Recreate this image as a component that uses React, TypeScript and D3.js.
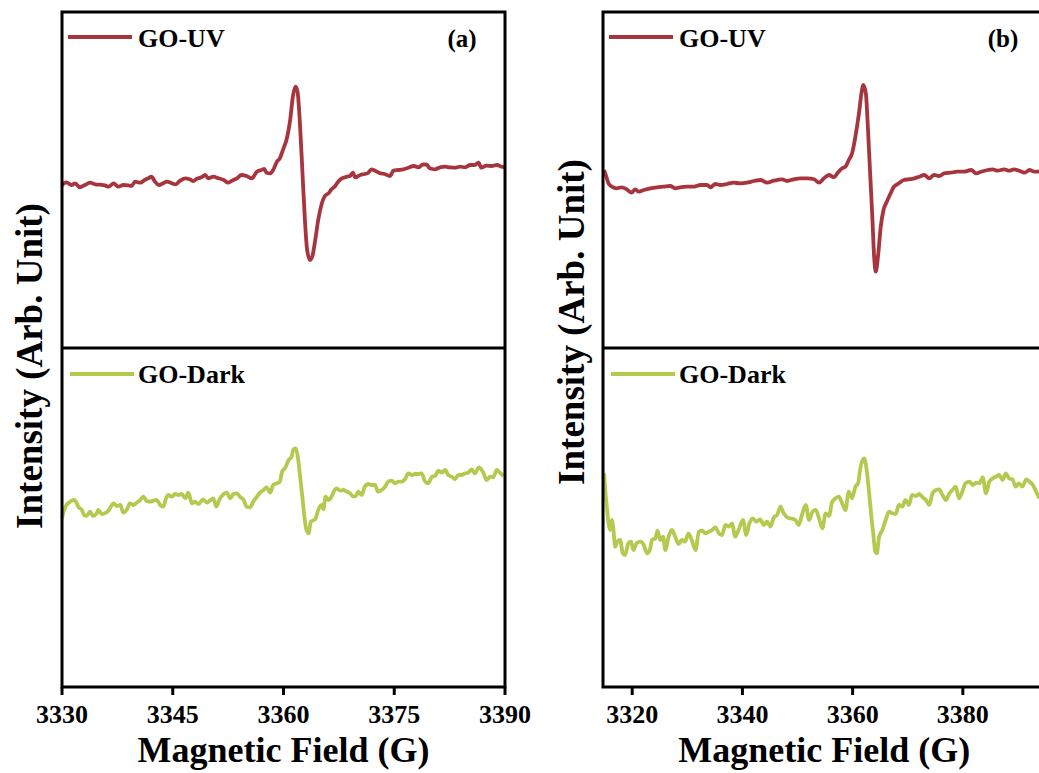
import React from "react";
import * as d3 from "d3";

// ---------- Data ----------
const ticksA = [3330, 3345, 3360, 3375, 3390];
const ticksB = [3320, 3340, 3360, 3380];
const domainA: [number, number] = [3330, 3390];
const domainB: [number, number] = [3314.7, 3395];

const seriesNames = ["GO-UV", "GO-Dark"];
const panelLabels = ["(a)", "(b)"];

const fieldUvA = [3330.0,3330.6,3331.3,3331.8,3332.4,3333.1,3333.8,3334.5,3335.2,3335.8,3336.3,3337.0,3337.6,3338.3,3339.0,3339.4,3339.9,3340.6,3341.2,3341.7,3342.1,3342.6,3343.1,3343.7,3344.2,3344.9,3345.4,3346.0,3346.7,3347.3,3347.8,3348.2,3348.9,3349.4,3349.8,3350.5,3351.2,3351.9,3352.5,3353.0,3353.7,3354.3,3355.0,3355.7,3356.4,3357.0,3357.4,3357.7,3358.2,3358.6,3359.1,3359.5,3360.0,3360.4,3360.9,3361.3,3361.65,3361.9,3362.2,3362.55,3362.9,3363.2,3363.6,3363.95,3364.3,3364.7,3365.2,3365.6,3366.1,3366.5,3367.0,3367.4,3367.9,3368.6,3369.0,3369.4,3369.7,3370.4,3371.0,3371.5,3371.9,3372.4,3373.1,3373.7,3374.4,3374.9,3375.6,3376.2,3376.9,3377.6,3378.3,3378.9,3379.4,3379.8,3380.5,3381.2,3381.9,3382.5,3383.2,3383.9,3384.6,3385.3,3385.9,3386.4,3386.8,3387.5,3388.2,3388.9,3389.5,3390.0];
const intUvA = [-5,-2.3,-5,-3.3,-7.3,-5,-2.7,-4.3,-4.7,-5.3,-6.7,-3.3,-6.7,-5,-5.3,-6,-1.7,-2.7,0,1.7,3.3,-1.7,-5,-3.3,-1.7,-3.3,-4.3,-0.7,1.7,0.7,-1,1,2.7,5,1.7,3.3,1.7,0,-2.7,-0.7,1.7,5,4,1.7,8.3,10,11,7.3,6.7,10,18.3,21.7,31.7,40,60,85,93.3,88.3,60,10,-40,-70,-80,-75,-60,-40,-23.3,-16,-13.3,-9.3,-6,-1.7,1.7,3.3,4,7.3,2.7,5,6,7.3,10.7,9.3,6.7,6,4,9.3,10,10.7,12.3,14,12.7,15.7,15.3,11.7,10.7,12.7,13.3,12.7,12.3,13.3,12.7,15,15,17.3,12.3,14.3,14,15,13.3,12.7];

const fieldDarkA = [3330.0,3330.3,3330.6,3331.1,3331.5,3331.9,3332.2,3332.7,3333.0,3333.3,3333.8,3334.2,3334.7,3334.9,3335.4,3335.8,3336.3,3336.5,3337.0,3337.4,3337.9,3338.3,3338.8,3339.2,3339.7,3340.1,3340.6,3341.0,3341.5,3341.9,3342.4,3342.8,3343.3,3343.7,3344.1,3344.4,3344.9,3345.3,3345.8,3346.2,3346.7,3347.1,3347.6,3348.0,3348.5,3349.1,3349.6,3350.0,3350.5,3350.9,3351.3,3351.9,3352.3,3352.8,3353.2,3353.7,3354.1,3354.6,3355.0,3355.5,3355.9,3356.4,3356.8,3357.3,3357.7,3358.2,3358.6,3359.1,3359.5,3359.8,3360.2,3360.7,3361.1,3361.3,3361.65,3361.9,3362.2,3362.55,3362.8,3363.1,3363.4,3363.7,3363.95,3364.3,3364.7,3365.2,3365.4,3365.7,3366.1,3366.5,3367.0,3367.2,3367.65,3368.1,3368.6,3369.0,3369.5,3369.9,3370.1,3370.6,3371.0,3371.5,3371.9,3372.4,3372.8,3373.3,3373.75,3374.2,3374.65,3375.1,3375.55,3376.0,3376.45,3376.9,3377.4,3377.8,3378.3,3378.7,3379.2,3379.6,3380.1,3380.5,3381.0,3381.4,3381.9,3382.3,3382.8,3383.2,3383.7,3384.1,3384.6,3385.0,3385.5,3385.9,3386.5,3387.1,3387.5,3388.0,3388.4,3388.9,3389.3,3389.8];
const intDarkA = [-0.8,7.5,12.5,15.8,17.5,15.8,10.8,7.5,2.5,1.5,5.8,1.5,4.2,7.5,3.5,4.2,6.8,9.2,14.2,11.5,12.5,4.8,8.2,14.2,12.5,14.8,17.5,20.8,16.5,15.8,16.8,17.5,12.5,10.8,19.2,22.5,20.8,23.5,22.5,23.5,19.2,24.8,14.2,15.8,13.5,18.2,14.8,16.8,19.2,10.8,17.5,23.5,24.8,19.2,23.5,24.2,20.8,17.5,10.8,10.2,15.8,20.8,24.8,27.5,30.2,24.8,32.5,34.2,35.8,45.8,49.2,57.5,60.8,67.5,69.2,62.5,44.2,20.8,2.5,-12.5,-15.8,-4.2,-3.2,-1.8,7.5,12.5,8.2,20.8,17.5,20.8,28.2,29.2,26.8,27.5,25.8,24.2,20.8,22.5,25.8,22.5,30.8,33.5,32.5,32.5,25.8,27.5,30.8,35.8,36.8,34.2,35.8,35.8,38.2,44.2,42.5,43.5,43.5,44.2,35.8,34.2,40.8,41.5,46.8,44.8,47.5,42.5,40.8,38.2,42.5,42.5,44.2,44.8,48.2,44.2,50.2,44.2,37.5,40.8,40.2,47.5,44.8,41.5];

const fieldUvB = [3314.9,3315.3,3315.7,3316.3,3317.2,3318.1,3319.0,3319.9,3320.5,3321.2,3322.1,3323.3,3324.5,3325.7,3326.9,3327.8,3328.7,3329.9,3331.2,3332.4,3333.6,3334.2,3335.1,3336.0,3337.2,3338.4,3339.6,3340.8,3342.1,3343.3,3344.5,3345.7,3347.2,3348.1,3349.3,3350.5,3351.8,3353.0,3353.9,3354.8,3355.7,3356.6,3357.3,3358.1,3358.7,3359.3,3359.9,3360.5,3361.15,3361.6,3361.9,3362.4,3362.7,3363.0,3363.3,3363.6,3363.9,3364.2,3364.6,3365.1,3365.6,3366.2,3366.9,3367.5,3368.4,3369.3,3370.2,3371.2,3372.1,3373.0,3373.9,3374.8,3375.7,3376.6,3377.8,3379.0,3380.2,3381.5,3382.4,3383.3,3384.5,3385.4,3386.3,3387.5,3388.4,3389.3,3390.2,3391.2,3392.1,3393.0,3393.9,3395.0];
const intUvB = [10,3.3,-3.3,-6.7,-8.3,-7.3,-9.3,-12.7,-9.3,-11.7,-10,-8.3,-7.3,-6.7,-6,-8.3,-7.3,-6.7,-6.7,-5,-5,-7.3,-4,-5,-4,-2.7,-3.3,-2.7,-1,0,-2.7,-0.7,0.7,-1,0.7,1.7,1.7,0.7,-2.7,1.7,5,2.7,7.3,11.7,13.3,20,26.7,43.3,66.7,86.7,95,86.7,60,26.7,-6.7,-40,-76.7,-91.7,-76.7,-46.7,-30,-21.7,-13.3,-6.7,-3.3,0,0.7,1.7,3.3,5,1.7,5,4,6.7,7.3,8.3,8.3,10,6.7,8.3,10,10.7,9.3,10.7,9.3,10.7,9.3,7.3,10,8.3,8.3,8.3];

const fieldDarkB = [3314.9,3315.1,3315.4,3315.7,3316.0,3316.3,3316.6,3316.9,3317.3,3317.8,3318.3,3318.7,3319.3,3319.8,3320.2,3320.8,3321.5,3322.1,3322.7,3323.2,3323.6,3324.2,3324.6,3325.1,3325.6,3326.0,3326.6,3327.2,3327.8,3328.4,3329.0,3329.6,3330.2,3330.8,3331.5,3332.1,3332.7,3333.3,3333.9,3334.5,3335.1,3335.7,3336.3,3336.9,3337.5,3338.1,3338.7,3339.3,3340.1,3340.7,3341.3,3341.9,3342.5,3343.2,3343.9,3344.5,3345.1,3345.7,3346.3,3346.9,3347.5,3348.1,3348.7,3349.6,3350.2,3350.8,3351.5,3352.1,3352.7,3353.3,3353.9,3354.5,3355.1,3355.7,3356.3,3356.9,3357.5,3358.1,3358.7,3359.3,3359.9,3360.5,3361.0,3361.3,3361.8,3362.1,3362.5,3363.0,3363.4,3363.8,3364.1,3364.4,3364.8,3365.4,3366.0,3366.6,3367.2,3367.8,3368.4,3369.0,3369.6,3370.2,3370.8,3371.5,3372.1,3372.7,3373.3,3373.9,3374.5,3375.1,3375.7,3376.3,3376.9,3377.5,3378.1,3378.7,3379.3,3379.9,3380.5,3381.2,3381.8,3382.4,3383.0,3383.6,3384.2,3384.8,3385.4,3386.0,3386.6,3387.2,3387.8,3388.4,3389.0,3389.6,3390.2,3390.8,3391.5,3392.1,3392.7,3393.3,3393.9];
const intDarkB = [44.2,27.5,10.8,-5.8,-12.5,-2.5,-12.5,-29.2,-24.2,-22.5,-35.8,-37.5,-25.8,-24.2,-32.5,-25.8,-24.2,-27.5,-35.8,-32.5,-22.5,-20.8,-13.2,-22.5,-19.2,-32.5,-19.2,-12.5,-19.2,-26.5,-22.5,-24.2,-15.8,-22.5,-32.5,-14.2,-13.2,-15.8,-14.2,-12.5,-9.8,-15.8,-17.5,-7.5,-9.2,-5.8,-19.2,-12.5,-2.5,-17.5,-5.2,-0.8,-4.2,-1.8,-7.5,-4.2,-9.2,0.2,2.5,10.8,4.2,0.2,-0.8,-2.5,-7.5,2.5,12.5,-2.5,5.8,7.5,-0.8,-10.8,4.2,1.5,15.8,19.2,20.8,14.2,7.5,25.8,19.2,30.8,34.2,45.8,57.5,59.2,49.2,24.2,0.8,-19.2,-34.2,-35.8,-19.2,-12.5,-2.5,5.8,4.2,3.5,12.5,10.8,17.5,12.5,22.5,21.5,23.5,20.2,17.5,12.5,24.2,27.5,28.2,22.5,17.5,23.5,27.5,30.8,19.2,25.8,34.2,35.8,32.5,34.8,34.2,40.2,24.2,35.8,39.2,40.8,42.5,37.5,44.2,39.2,38.2,30.8,34.2,30.8,38.2,35.8,32.5,25.8,19.2];

// ---------- Styling ----------
const RED = "#a7353e";
const GREEN = "#b6c94f";
const FONT = "'Liberation Serif', 'Times New Roman', serif";

type Series = { name: string; color: string; fields: number[]; values: number[] };

function Panel(props: {
  left: number; right: number; xDomain: [number, number]; ticks: number[];
  label: string; top: Series; bottom: Series; yTitleY: number; yTitleX: number;
}) {
  const { left, right, xDomain, ticks, label, top, bottom, yTitleX, yTitleY } = props;
  const T = 12, M = 348, B = 687;
  const x = d3.scaleLinear().domain(xDomain).range([left, right]);
  const yTop = d3.scaleLinear().domain([-168, 168]).range([M, T]);
  const yBot = d3.scaleLinear().domain([-169.5, 169.5]).range([B, M]);
  const mk = (s: Series, y: d3.ScaleLinear<number, number>) =>
    d3.line<number>().x((_, i) => x(s.fields[i])).y((v) => y(v)).curve(d3.curveMonotoneX)(s.values) || "";
  const width = right - left;
  const cx = left + width / 2;
  return (
    <g>
      <path d={mk(top, yTop)} fill="none" stroke={top.color} strokeWidth={3.8} strokeLinejoin="round" />
      <path d={mk(bottom, yBot)} fill="none" stroke={bottom.color} strokeWidth={3.8} strokeLinejoin="round" />
      <rect x={left} y={T} width={width} height={B - T} fill="none" stroke="#000" strokeWidth={3} />
      <line x1={left} x2={right} y1={M} y2={M} stroke="#000" strokeWidth={3} />
      {ticks.map((t) => (
        <g key={t}>
          <line x1={x(t)} x2={x(t)} y1={B} y2={B + 8} stroke="#000" strokeWidth={3} />
          <text x={x(t)} y={723} textAnchor="middle" fontFamily={FONT} fontWeight="bold" fontSize={26}>{t}</text>
        </g>
      ))}
      <text x={cx} y={762} textAnchor="middle" fontFamily={FONT} fontWeight="bold" fontSize={36}>Magnetic Field (G)</text>
      <text transform={`translate(${yTitleX},${yTitleY}) rotate(-90)`} textAnchor="middle" fontFamily={FONT} fontWeight="bold" fontSize={37}>Intensity (Arb. Unit)</text>
      {/* legends */}
      <line x1={left + 6} x2={left + 70} y1={37} y2={37} stroke={top.color} strokeWidth={4} />
      <text x={left + 76} y={47} fontFamily={FONT} fontWeight="bold" fontSize={26}>{top.name}</text>
      <line x1={left + 8} x2={left + 72} y1={374} y2={374} stroke={bottom.color} strokeWidth={4} />
      <text x={left + 76} y={383} fontFamily={FONT} fontWeight="bold" fontSize={26}>{bottom.name}</text>
      <text x={left + 400} y={47} textAnchor="middle" fontFamily={FONT} fontWeight="bold" fontSize={25}>{label}</text>
    </g>
  );
}

export default function App() {
  return (
    <svg width={1039} height={773} style={{ position: "absolute", left: 0, top: 0, background: "#fff" }}>
      <rect x={0} y={0} width={1039} height={773} fill="#fff" />
      <Panel left={62} right={505} xDomain={domainA} ticks={ticksA} label={panelLabels[0]} yTitleX={42} yTitleY={366}
        top={{ name: seriesNames[0], color: RED, fields: fieldUvA, values: intUvA }}
        bottom={{ name: seriesNames[1], color: GREEN, fields: fieldDarkA, values: intDarkA }} />
      <Panel left={603} right={1045.5} xDomain={domainB} ticks={ticksB} label={panelLabels[1]} yTitleX={584} yTitleY={322}
        top={{ name: seriesNames[0], color: RED, fields: fieldUvB, values: intUvB }}
        bottom={{ name: seriesNames[1], color: GREEN, fields: fieldDarkB, values: intDarkB }} />
    </svg>
  );
}
